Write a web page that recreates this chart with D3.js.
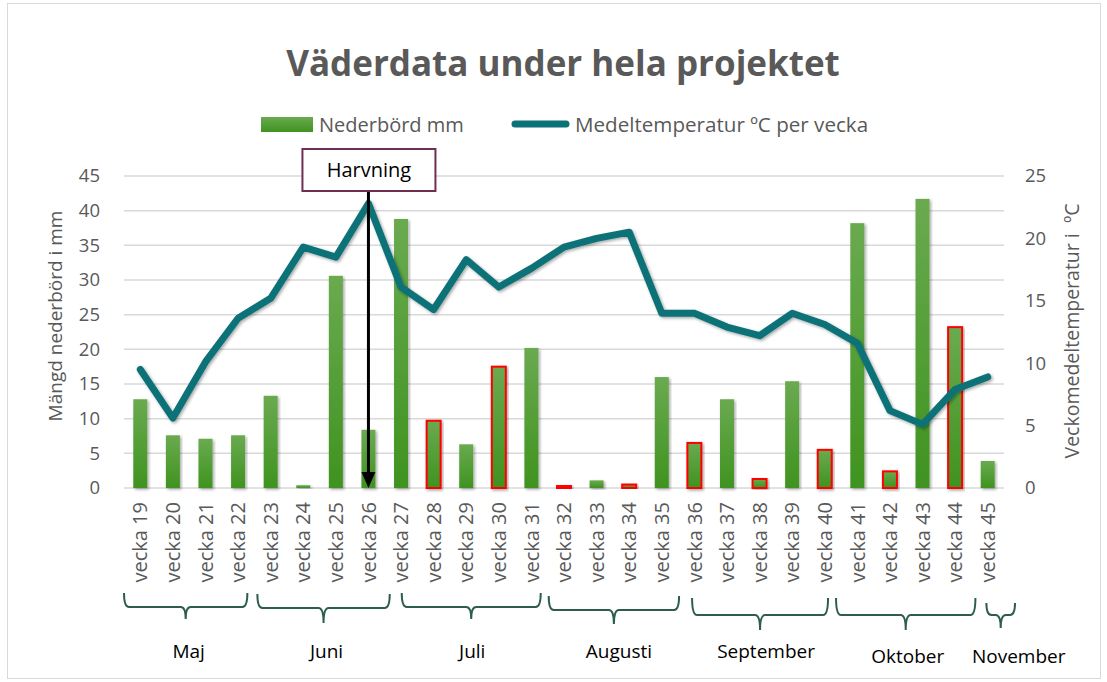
<!DOCTYPE html>
<html>
<head>
<meta charset="utf-8">
<script src="https://cdn.jsdelivr.net/npm/d3@7"></script>
<style>
  html, body { margin: 0; padding: 0; background: #fff; }
  svg { display: block; font-family: "Open Sans", "Noto Sans", sans-serif; }
</style>
</head>
<body>
<svg id="chart" width="1107" height="682"></svg>
<script>
// --- data ---
const weeks = d3.range(19, 46).map(w => `vecka ${w}`);
const rainfall = [12.8, 7.6, 7.1, 7.6, 13.3, 0.4, 30.6, 8.4, 38.8, 9.7, 6.3, 17.5, 20.2, 0.3,
  1.1, 0.5, 16.0, 6.5, 12.8, 1.3, 15.4, 5.5, 38.2, 2.4, 41.7, 23.2, 3.9];
const temperature = [9.5, 5.6, 10.1, 13.6, 15.2, 19.3, 18.5, 22.8, 16.1, 14.3, 18.3, 16.1, 17.6, 19.3,
  20.0, 20.5, 14.0, 14.0, 12.9, 12.2, 14.0, 13.1, 11.6, 6.2, 5.1, 7.9, 8.9];
// weeks whose bars carry a red outline
const outlined = ["vecka 28", "vecka 30", "vecka 32", "vecka 34", "vecka 36", "vecka 38", "vecka 40", "vecka 42", "vecka 44"];
const leftTicks = d3.range(0, 50, 5);
const rightTicks = d3.range(0, 30, 5);
const months = ["Maj", "Juni", "Juli", "Augusti", "September", "Oktober", "November"];
const monthStart = ["vecka 19", "vecka 23", "vecka 27", "vecka 32", "vecka 36", "vecka 41", "vecka 45"];
const monthEnd = ["vecka 22", "vecka 26", "vecka 31", "vecka 35", "vecka 40", "vecka 44", "vecka 45"];
const markerWeek = "vecka 26";
const markerText = "Harvning";

const data = weeks.map((w, i) => ({ week: w, rain: rainfall[i], temp: temperature[i] }));

const svg = d3.select("#chart");
const M = { left: 124, right: 1004, top: 176, bottom: 488 };
const grey = "#595959";

const x = d3.scalePoint().domain(weeks).range([M.left, M.right]).padding(0.5);
const step = x.step();
const yL = d3.scaleLinear().domain([0, 45]).range([M.bottom, M.top]);
const yR = d3.scaleLinear().domain([0, 25]).range([M.bottom, M.top]);

const defs = svg.append("defs");
const grad = defs.append("linearGradient").attr("id", "barGrad")
  .attr("x1", 0).attr("y1", 0).attr("x2", 0).attr("y2", 1);
grad.append("stop").attr("offset", "0%").attr("stop-color", "#6aaa50");
grad.append("stop").attr("offset", "100%").attr("stop-color", "#3f931f");

const shadow = defs.append("filter").attr("id", "shadow")
  .attr("x", "-20%").attr("y", "-20%").attr("width", "140%").attr("height", "140%");
shadow.append("feDropShadow").attr("dx", 1.5).attr("dy", 1.5).attr("stdDeviation", 1.5)
  .attr("flood-color", "#000").attr("flood-opacity", 0.35);

// border
svg.append("rect").attr("x", 7.5).attr("y", 3.5).attr("width", 1093).attr("height", 675)
  .attr("fill", "none").attr("stroke", "#d9d9d9");

// title
svg.append("text").attr("x", 563).attr("y", 76).attr("text-anchor", "middle")
  .attr("fill", grey).style("font-size", "35px").style("font-weight", "bold")
  .text("Väderdata under hela projektet");

// legend
const lg = svg.append("g");
lg.append("rect").attr("x", 261).attr("y", 117).attr("width", 52).attr("height", 15).attr("fill", "url(#barGrad)");
lg.append("text").attr("x", 319).attr("y", 131.5).attr("fill", grey).style("font-size", "20px").text("Nederbörd mm");
lg.append("line").attr("x1", 515).attr("x2", 566).attr("y1", 124).attr("y2", 124)
  .attr("stroke", "#0b7277").attr("stroke-width", 7).attr("stroke-linecap", "round");
lg.append("text").attr("x", 575).attr("y", 131.5).attr("fill", grey).style("font-size", "20.6px")
  .text("Medeltemperatur ºC per vecka");

// gridlines
svg.append("g").selectAll("line").data(leftTicks).join("line")
  .attr("x1", M.left).attr("x2", M.right)
  .attr("y1", d => yL(d)).attr("y2", d => yL(d))
  .attr("stroke", "#d9d9d9").attr("stroke-width", 1.5);

// left axis
const axL = svg.append("g").attr("transform", `translate(${M.left - 16},0)`)
  .call(d3.axisLeft(yL).tickValues(leftTicks).tickSize(0).tickPadding(8));
axL.select(".domain").remove();
axL.selectAll("text").attr("fill", grey).style("font-size", "18.5px").style("font-family", "Open Sans");

// right axis
const axR = svg.append("g").attr("transform", `translate(${M.right + 12},0)`)
  .call(d3.axisRight(yR).tickValues(rightTicks).tickSize(0).tickPadding(9));
axR.select(".domain").remove();
axR.selectAll("text").attr("fill", grey).style("font-size", "18.5px").style("font-family", "Open Sans");

// axis titles
svg.append("text").attr("transform", "translate(62,316) rotate(-90)").attr("text-anchor", "middle")
  .attr("fill", grey).style("font-size", "19px").text("Mängd nederbörd i mm");
svg.append("text").attr("transform", "translate(1079,331) rotate(-90)").attr("text-anchor", "middle")
  .attr("fill", grey).style("font-size", "19.5px").style("white-space", "pre").text("Veckomedeltemperatur i  ºC");

// x labels
svg.append("g").selectAll("text").data(weeks).join("text")
  .attr("transform", d => `translate(${x(d)},502) rotate(-90)`)
  .attr("text-anchor", "end").attr("dy", "0.36em")
  .attr("fill", grey).style("font-size", "20px").text(d => d);

// bars
const bw = 14;
svg.append("g").selectAll("rect").data(data).join("rect")
  .attr("x", d => x(d.week) - bw / 2)
  .attr("y", d => yL(d.rain))
  .attr("width", bw)
  .attr("height", d => yL(0) - yL(d.rain))
  .attr("fill", "url(#barGrad)")
  .attr("stroke", d => outlined.includes(d.week) ? "#ff0000" : "none")
  .attr("stroke-width", 2)
  .attr("filter", "url(#shadow)");

// temperature line
const line = d3.line().x(d => x(d.week)).y(d => yR(d.temp));
svg.append("path").datum(data)
  .attr("d", line).attr("fill", "none")
  .attr("stroke", "#0b7277").attr("stroke-width", 7)
  .attr("stroke-linejoin", "round").attr("stroke-linecap", "round")
  .attr("filter", "url(#shadow)");

// Harvning marker
const hx = x(markerWeek);
svg.append("line").attr("x1", hx).attr("x2", hx).attr("y1", 191).attr("y2", yL(0) - 14)
  .attr("stroke", "#000").attr("stroke-width", 3);
svg.append("path")
  .attr("d", `M${hx - 7},${yL(0) - 16} L${hx + 7},${yL(0) - 16} L${hx},${yL(0)} Z`)
  .attr("fill", "#000");
svg.append("rect").attr("x", hx - 66).attr("y", 149).attr("width", 133).attr("height", 42)
  .attr("fill", "#fff").attr("stroke", "#6e2f55").attr("stroke-width", 2);
svg.append("text").attr("x", hx + 0.5).attr("y", 177).attr("text-anchor", "middle")
  .attr("fill", "#000").style("font-size", "20px").text(markerText);

// month braces (hand-drawn in the original, so each gets a small nudge)
const braceNudge = [[-3, -4], [0, 8], [14, -4], [-2, 4], [11, -10], [-8, 7], [12, 14]];
const braceRow = [[593, 607, 619], [594, 608, 623], [593, 607, 619], [596, 610, 624],
  [598, 615, 630], [598, 615, 630], [603, 615, 628]];
const labelNudge = [3, 3, 1, 5, 6, 2, 18];
const labelY = [658, 658, 658, 658, 658, 663, 663];
const brace = (x0, x1, top, mid, pt) => {
  const xc = (x0 + x1) / 2, r = 5;
  return `M${x0},${top} Q${x0},${mid} ${x0 + r},${mid} L${xc - r},${mid} Q${xc},${mid} ${xc},${pt}` +
    ` Q${xc},${mid} ${xc + r},${mid} L${x1 - r},${mid} Q${x1},${mid} ${x1},${top}`;
};
const mg = svg.append("g");
months.forEach((m, i) => {
  const x0 = x(monthStart[i]) - step / 2 + 3 + braceNudge[i][0];
  const x1 = x(monthEnd[i]) + step / 2 - 3 + braceNudge[i][1];
  const [top, mid, pt] = braceRow[i];
  mg.append("path")
    .attr("d", brace(x0, x1, top, mid, pt))
    .attr("fill", "none").attr("stroke", "#2d5e4b").attr("stroke-width", 2);
  mg.append("text").attr("x", (x0 + x1) / 2 + labelNudge[i]).attr("y", labelY[i])
    .attr("text-anchor", "middle").attr("fill", "#000").style("font-size", "19px").text(m);
});
</script>
</body>
</html>
